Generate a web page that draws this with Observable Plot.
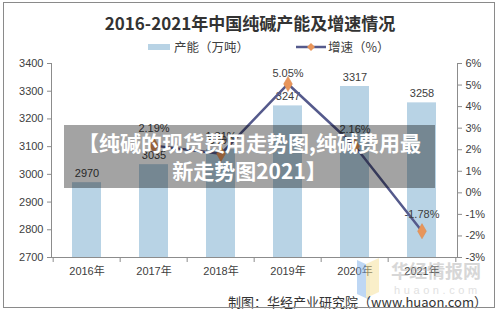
<!DOCTYPE html>
<html>
<head>
<meta charset="utf-8">
<script src="https://cdn.jsdelivr.net/npm/d3@7"></script>
<script src="https://cdn.jsdelivr.net/npm/@observablehq/plot@0.6"></script>
<style>
  html, body { margin: 0; padding: 0; background: #fff; }
  #wrap { position: relative; width: 500px; height: 313px; overflow: hidden;
          font-family: "Liberation Sans", "Noto Sans CJK SC", sans-serif; }
  #border { position: absolute; left: 3px; top: 2px; width: 492px; height: 306px;
            border: 1px solid #8a8a8a; box-sizing: border-box; pointer-events: none; }
  #title { position: absolute; left: 0; width: 500px; top: 10px; text-align: center;
           font: bold 17px "Noto Sans CJK SC", sans-serif; color: #333; }
  .legend { position: absolute; top: 37px; font: 12.5px "Noto Sans CJK SC", sans-serif; color: #404040;
            display: flex; align-items: center; white-space: nowrap; }
  #caption { position: absolute; right: 13px; top: 292px; font: 13px "Noto Sans CJK SC", sans-serif; color: #333; }
  #banner { position: absolute; left: 64px; top: 125px; width: 371px; height: 63px;
            background: rgba(0,0,0,0.36); color: #fff; text-align: center;
            font: bold 21px "Noto Sans CJK SC", sans-serif; line-height: 28px; padding-top: 3px; box-sizing: border-box; }
  #mark { position: absolute; left: 356px; top: 256px; width: 128px; height: 46px; opacity: 0.5; }
  #plot { position: absolute; left: 0; top: 0; }
</style>
</head>
<body>
<div id="wrap">
  <div id="plot"></div>
  <div id="title">2016-2021年中国纯碱产能及增速情况</div>
  <div class="legend" style="left:148px">
    <svg width="24" height="8"><rect x="0" y="1" width="22" height="6" fill="#b8d3e5"></rect></svg>
    <span style="margin-left:2px">产能（万吨）</span>
  </div>
  <div class="legend" style="left:296px">
    <svg width="30" height="12"><line x1="0" y1="6" x2="30" y2="6" stroke="#555a8c" stroke-width="2.5"></line>
      <path d="M15,2 L19,6 L15,10 L11,6 Z" fill="#e8955a"></path></svg>
    <span style="margin-left:2px">增速（%）</span>
  </div>
  <svg id="mark" viewBox="0 0 128 46">
    <path d="M1,4 L14,10 L14,44 L1,38 Z" fill="#7fb0ea"></path>
    <path d="M10,8 L23,2 L23,36 L10,42 Z" fill="#f5dd8a" opacity="0.9"></path>
    <text x="35" y="22" font-family="Noto Sans CJK SC" font-weight="bold" font-size="18" fill="#b0b0b0">华经情报网</text>
    <text x="38" y="38" font-family="Liberation Sans" font-size="11" letter-spacing="3.6" fill="#c4c4c4">huaon.com</text>
  </svg>
  <div id="caption">制图：华经产业研究院（www.huaon.com）</div>
  <div id="banner">【纯碱的现货费用走势图,纯碱费用最<br>新走势图2021】</div>
  <div id="border"></div>
</div>
<script>
// Capacity (10k tonnes) and year-on-year growth (%) of soda ash, 2016–2021
const years = ["2016", "2017", "2018", "2019", "2020", "2021"];
const capacity = [2970, 3035, 3090, 3247, 3317, 3258];
const growth = [null, 2.19, 1.81, 5.05, 2.16, -1.78];

const capTicks = [2700, 2800, 2900, 3000, 3100, 3200, 3300, 3400];
const pctTicks = [-3, -2, -1, 0, 1, 2, 3, 4, 5, 6];

// The growth series shares the left scale: -3%..6% maps onto 2700..3400
const capMin = 2700, capMax = 3400, pMin = -3, pMax = 6;
const toCap = p => capMin + (p - pMin) * (capMax - capMin) / (pMax - pMin);
const toPct = v => Math.round(pMin + (v - capMin) * (pMax - pMin) / (capMax - capMin));

const rows = years.map((y, i) => ({year: y, cap: capacity[i], g: growth[i]}));
const lineRows = rows.filter(d => d.g != null);
const gMax = d3.max(lineRows, d => d.g);

const ink = "#404040";
const axisColor = "#8c8c8c";
const step = (500 - 51 - 43) / years.length;

const chart = Plot.plot({
  width: 500,
  height: 313,
  marginTop: 63,
  marginBottom: 56,
  marginLeft: 51,
  marginRight: 43,
  style: {fontFamily: "'Liberation Sans', 'Noto Sans CJK SC', sans-serif", fontSize: "11px", color: ink, background: "transparent"},
  x: {domain: years, paddingInner: 0.56, paddingOuter: 0.28, label: null},
  y: {domain: [capMin, capMax], label: null},
  marks: [
    Plot.barY(rows, {x: "year", y1: capMin, y2: "cap", fill: "#b8d3e5"}),
    Plot.frame({anchor: "left", stroke: axisColor}),
    Plot.frame({anchor: "right", stroke: axisColor}),
    Plot.frame({anchor: "bottom", stroke: axisColor}),
    Plot.axisY(capTicks, {anchor: "left", tickSize: 4, tickPadding: 4, tickFormat: d => String(d), stroke: axisColor, fill: ink, label: null}),
    Plot.axisY(pctTicks.map(toCap), {anchor: "right", tickSize: 4, tickPadding: 4, tickFormat: v => toPct(v) + "%", stroke: axisColor, fill: ink, label: null}),
    Plot.axisX({tickSize: 5, text: null, dx: -step / 2, stroke: axisColor, label: null}),
    Plot.axisX([years[years.length - 1]], {tickSize: 5, text: null, dx: step / 2, stroke: axisColor, label: null}),
    Plot.axisX({tickSize: 0, tickPadding: 10, tickFormat: d => d + "年", fill: ink, label: null}),
    Plot.text(rows, {x: "year", y: "cap", text: d => String(d.cap), dy: -9, fill: ink, fontSize: 11}),
    Plot.line(lineRows, {x: "year", y: d => toCap(d.g), stroke: "#555a8c", strokeWidth: 2.5}),
    Plot.dot(lineRows, {x: "year", y: d => toCap(d.g), symbol: "diamond", r: 4.6, fill: "#e8955a", stroke: "#d98a50", strokeWidth: 0.5}),
    Plot.text(lineRows.filter(d => d.g !== gMax), {x: "year", y: d => toCap(d.g), text: d => d.g.toFixed(2) + "%", dy: -17, fill: ink, fontSize: 11}),
    Plot.text(lineRows.filter(d => d.g === gMax), {x: "year", y: d => toCap(d.g), text: d => d.g.toFixed(2) + "%", dy: -11, fill: ink, fontSize: 11})
  ]
});
document.getElementById("plot").appendChild(chart);
</script>
</body>
</html>
